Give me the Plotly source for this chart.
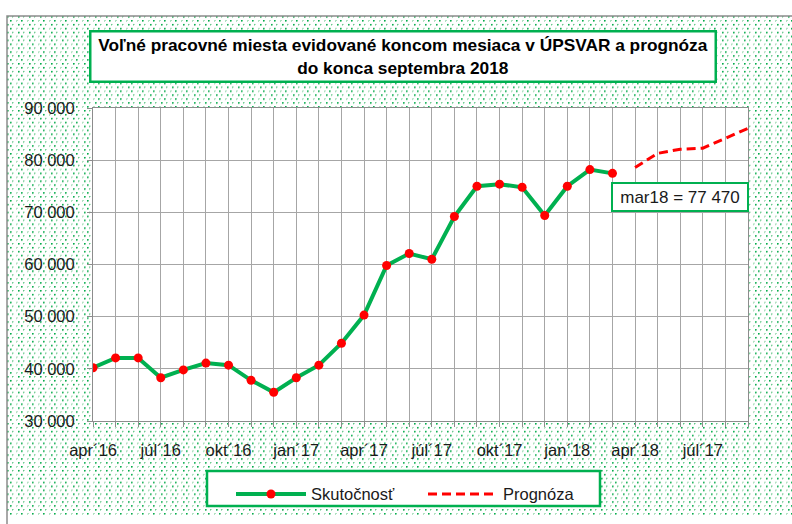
import base64
import struct
import zlib

import plotly.graph_objects as go

# ---------------- data ----------------
months = ["apr´16", "máj´16", "jún´16", "júl´16", "aug´16", "sep´16", "okt´16", "nov´16",
          "dec´16", "jan´17", "feb´17", "mar´17", "apr´17", "máj´17", "jún´17", "júl´17",
          "aug´17", "sep´17", "okt´17", "nov´17", "dec´17", "jan´18", "feb´18", "mar´18",
          "apr´18", "máj´18", "jún´18", "júl´18", "aug´18", "sep´18"]
actual = [40200, 42100, 42100, 38300, 39800, 41100, 40700, 37800, 35500, 38300, 40700, 44900,
          50300, 59800, 62100, 61000, 69200, 75000, 75400, 74800, 69400, 75000, 78200, 77470]
forecast = [78600, 81300, 82100, 82300, 84200, 86100]
tick_labels = ["apr´16", "júl´16", "okt´16", "jan´17", "apr´17", "júl´17", "okt´17",
               "jan´18", "apr´18", "júl´17"]
title_lines = ["Voľné pracovné miesta evidované koncom mesiaca v ÚPSVAR a prognóza",
               "do konca septembra 2018"]
series_names = ["Skutočnosť", "Prognóza"]

GREEN = "#00B050"
RED = "#FF0000"
FONT = "Liberation Sans, Arial, sans-serif"
TXT = "#1a1a1a"

W, H = 792, 524
ML, MR, MT, MB = 93, 44, 108, 96
PW, PH = W - ML - MR, H - MT - MB


def px_x(p):
    return (p - ML) / PW


def px_y(p):
    return (H - MB - p) / PH


# ---------------- dotted background (pattern image) ----------------
S = (0, 176, 80)
M = (95, 198, 135)
L = (175, 225, 192)
Wt = (255, 255, 255)
tile = [
    "SM   ML    ",
    "ML   L     ",
    "           ",
    "           ",
    "   SM    LL",
    "   ML    L ",
    "           ",
    "           ",
]
cmap = {"S": S, "M": M, "L": L, " ": Wt}
IMG_X0, IMG_Y0 = 7, 14
IW, IH = W - IMG_X0, H - IMG_Y0
rows = []
for y in range(IH):
    trow = tile[y % len(tile)]
    raw = bytearray([0])
    for x in range(IW):
        raw += bytes(cmap[trow[x % len(trow)]])
    rows.append(bytes(raw))
data = zlib.compress(b"".join(rows), 9)


def chunk(tag, payload):
    c = struct.pack(">I", len(payload)) + tag + payload
    return c + struct.pack(">I", zlib.crc32(tag + payload) & 0xFFFFFFFF)


png = (b"\x89PNG\r\n\x1a\n" + chunk(b"IHDR", struct.pack(">IIBBBBB", IW, IH, 8, 2, 0, 0, 0))
       + chunk(b"IDAT", data) + chunk(b"IEND", b""))
png_uri = "data:image/png;base64," + base64.b64encode(png).decode()

# ---------------- figure ----------------
fig = go.Figure()
fig.add_trace(go.Scatter(
    x=months[:len(actual)], y=actual, mode="lines+markers", name=series_names[0],
    line=dict(color=GREEN, width=4),
    marker=dict(color=RED, size=9, line=dict(color=RED, width=0)),
    legend="legend",
))
fig.add_trace(go.Scatter(
    x=months[len(actual):len(actual) + len(forecast)], y=forecast, mode="lines",
    name=series_names[1], line=dict(color=RED, width=3, dash="9px,5px"),
    legend="legend2",
))

tick_text = []
k = 0
for i, m in enumerate(months):
    if i % 3 == 0 and k < len(tick_labels):
        tick_text.append(tick_labels[k])
        k += 1
    else:
        tick_text.append("")

fig.update_xaxes(
    type="category", categoryorder="array", categoryarray=months,
    range=[0, len(months) - 1],
    tickmode="array", tickvals=months, ticktext=tick_text,
    showgrid=True, gridcolor="#a6a6a6", gridwidth=1,
    showline=True, linecolor="#8c8c8c", linewidth=1, mirror=True,
    ticks="outside", ticklen=5, tickcolor="#8c8c8c",
    tickfont=dict(family=FONT, size=16.5, color=TXT),
    ticklabelstandoff=9, zeroline=False,
)
fig.update_yaxes(
    range=[30000, 90000], dtick=10000, tickformat=",d",
    showgrid=True, gridcolor="#a6a6a6", gridwidth=1,
    showline=True, linecolor="#8c8c8c", linewidth=1, mirror=True,
    ticks="outside", ticklen=5, tickcolor="#8c8c8c",
    tickfont=dict(family=FONT, size=16.5, color=TXT),
    ticklabelstandoff=9, zeroline=False,
)

leg_common = dict(orientation="h", xanchor="left", yanchor="top",
                  bgcolor="rgba(0,0,0,0)", borderwidth=0,
                  font=dict(family=FONT, size=16.5, color=TXT), itemwidth=70)

fig.update_layout(
    width=W, height=H, autosize=False,
    margin=dict(l=ML, r=MR, t=MT, b=MB, pad=0),
    paper_bgcolor="white", plot_bgcolor="white",
    separators=", ",
    font=dict(family=FONT, color=TXT),
    showlegend=True,
    legend=dict(x=px_x(231), y=px_y(485), **leg_common),
    legend2=dict(x=px_x(423), y=px_y(485), **leg_common),
    images=[dict(
        source=png_uri, xref="paper", yref="paper",
        x=px_x(IMG_X0), y=px_y(IMG_Y0), sizex=IW / PW, sizey=IH / PH,
        xanchor="left", yanchor="top", sizing="stretch", layer="below",
    )],
    shapes=[
        dict(type="rect", xref="paper", yref="paper", x0=px_x(IMG_X0), x1=px_x(W + 20),
             y0=px_y(IMG_Y0), y1=px_y(H + 20), line=dict(color="#8c8c8c", width=1.5),
             fillcolor="rgba(0,0,0,0)", layer="below"),
        dict(type="rect", xref="paper", yref="paper", x0=0, x1=1, y0=0, y1=1,
             line=dict(width=0), fillcolor="white", layer="below"),
        dict(type="rect", xref="paper", yref="paper", x0=px_x(207), x1=px_x(600),
             y0=px_y(479), y1=px_y(515), line=dict(color=GREEN, width=2.5),
             fillcolor="white", layer="below"),
    ],
    annotations=[
        dict(text="<b>" + "<br>".join(title_lines) + "</b>", xref="paper", yref="paper",
             x=px_x(403), y=px_y(55), xanchor="center", yanchor="middle", showarrow=False,
             font=dict(family=FONT, size=17.3, color="#000000"), align="center",
             bgcolor="white", bordercolor=GREEN, borderwidth=2.5, borderpad=1,
             width=621, height=46),
        dict(text=f"{months[len(actual) - 1].replace('´', '')} = " + f"{actual[-1]:,}".replace(",", " "),
             xref="paper", yref="paper", x=px_x(680), y=px_y(199),
             xanchor="center", yanchor="middle", showarrow=False,
             font=dict(family=FONT, size=17, color=TXT),
             bgcolor="white", bordercolor=GREEN, borderwidth=2, borderpad=2,
             width=130, height=22),
    ],
)

fig.write_html("out.html", config={"displayModeBar": False},
               post_script="document.body.style.margin='0';")
